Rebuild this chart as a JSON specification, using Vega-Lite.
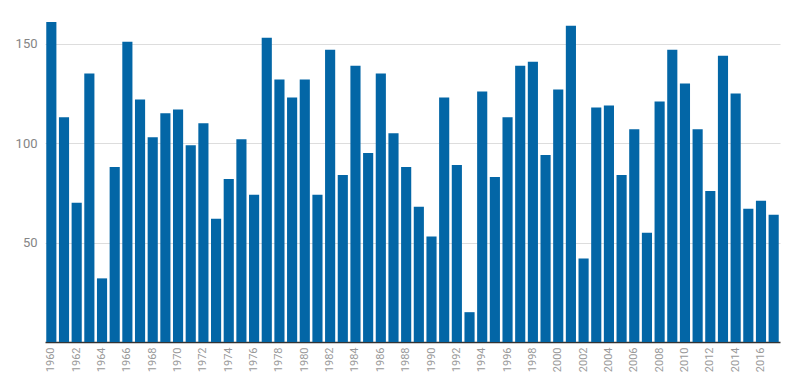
{
  "$schema": "https://vega.github.io/schema/vega-lite/v6.json",
  "width": 735,
  "height": 338,
  "autosize": "none",
  "padding": {"left": 45, "top": 4, "right": 13, "bottom": 37},
  "background": "white",
  "config": {
    "view": {"stroke": null},
    "font": "Roboto"
  },
  "data": {
    "values": [
      {"year": 1960, "value": 161}, {"year": 1961, "value": 113}, {"year": 1962, "value": 70},
      {"year": 1963, "value": 135}, {"year": 1964, "value": 32}, {"year": 1965, "value": 88},
      {"year": 1966, "value": 151}, {"year": 1967, "value": 122}, {"year": 1968, "value": 103},
      {"year": 1969, "value": 115}, {"year": 1970, "value": 117}, {"year": 1971, "value": 99},
      {"year": 1972, "value": 110}, {"year": 1973, "value": 62}, {"year": 1974, "value": 82},
      {"year": 1975, "value": 102}, {"year": 1976, "value": 74}, {"year": 1977, "value": 153},
      {"year": 1978, "value": 132}, {"year": 1979, "value": 123}, {"year": 1980, "value": 132},
      {"year": 1981, "value": 74}, {"year": 1982, "value": 147}, {"year": 1983, "value": 84},
      {"year": 1984, "value": 139}, {"year": 1985, "value": 95}, {"year": 1986, "value": 135},
      {"year": 1987, "value": 105}, {"year": 1988, "value": 88}, {"year": 1989, "value": 68},
      {"year": 1990, "value": 53}, {"year": 1991, "value": 123}, {"year": 1992, "value": 89},
      {"year": 1993, "value": 15}, {"year": 1994, "value": 126}, {"year": 1995, "value": 83},
      {"year": 1996, "value": 113}, {"year": 1997, "value": 139}, {"year": 1998, "value": 141},
      {"year": 1999, "value": 94}, {"year": 2000, "value": 127}, {"year": 2001, "value": 159},
      {"year": 2002, "value": 42}, {"year": 2003, "value": 118}, {"year": 2004, "value": 119},
      {"year": 2005, "value": 84}, {"year": 2006, "value": 107}, {"year": 2007, "value": 55},
      {"year": 2008, "value": 121}, {"year": 2009, "value": 147}, {"year": 2010, "value": 130},
      {"year": 2011, "value": 107}, {"year": 2012, "value": 76}, {"year": 2013, "value": 144},
      {"year": 2014, "value": 125}, {"year": 2015, "value": 67}, {"year": 2016, "value": 71},
      {"year": 2017, "value": 64}
    ]
  },
  "mark": {"type": "bar", "color": "#0366A6"},
  "encoding": {
    "x": {
      "field": "year",
      "type": "ordinal",
      "scale": {"paddingInner": 0.2, "paddingOuter": 0.1},
      "axis": {
        "title": null,
        "labelAngle": -90,
        "labelExpr": "datum.value % 2 === 0 ? datum.label : ''",
        "labelOverlap": false,
        "labelFontSize": 11,
        "labelColor": "#999999",
        "labelPadding": 5,
        "ticks": false,
        "domainColor": "#333333",
        "domainWidth": 1.5,
        "grid": false
      }
    },
    "y": {
      "field": "value",
      "type": "quantitative",
      "scale": {"domain": [0, 170], "nice": false},
      "axis": {
        "title": null,
        "values": [50, 100, 150],
        "labelFontSize": 13,
        "labelColor": "#858585",
        "labelPadding": 8,
        "ticks": false,
        "domain": false,
        "gridColor": "#DDDDDD",
        "gridWidth": 1
      }
    }
  }
}
